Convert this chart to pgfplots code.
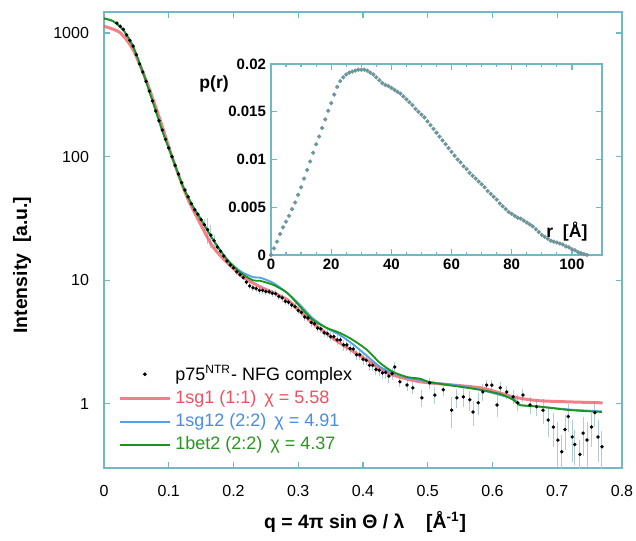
\documentclass[border=0pt]{standalone}
\usepackage{fontspec}
\setmainfont{Liberation Sans}
\usepackage{pgfplots}
\pgfplotsset{compat=1.18}

\definecolor{axcol}{RGB}{110,185,195}
\definecolor{fitred}{RGB}{240,95,105}
\definecolor{fitblue}{RGB}{80,160,235}
\definecolor{fitgreen}{RGB}{25,150,25}
\definecolor{txtred}{RGB}{240,80,95}
\definecolor{txtblue}{RGB}{70,140,235}
\definecolor{txtgreen}{RGB}{40,150,30}
\definecolor{errcol}{RGB}{175,205,210}
\definecolor{prcol}{RGB}{110,150,155}

\begin{document}
\begin{tikzpicture}
\path[use as bounding box] (-52pt,-36pt) rectangle (266pt,234pt);

% ---------- main scattering curve ----------
\begin{axis}[
    at={(0,0)}, anchor=south west,
    scale only axis, width=259pt, height=228pt,
    xmin=0, xmax=0.8,
    ymode=log, ymin=0.303, ymax=1480,
    xtick={0,0.1,0.2,0.3,0.4,0.5,0.6,0.7,0.8},
    ytick={1,10,100,1000}, yticklabels={1,10,100,1000},
    yminorticks=false,
    tick align=inside, major tick length=3pt,
    axis line style={axcol, line width=0.7pt},
    tick style={axcol, line width=0.6pt},
    tick label style={font=\fontsize{8}{9}\selectfont, black},
    xticklabel style={yshift=-5pt},
    yticklabel style={xshift=-4pt},
    /pgf/number format/assume math mode=true,
    xlabel={q = 4π sin Θ / λ \ \ \ [Å\textsuperscript{-1}]},
    ylabel={Intensity \ [a.u.]},
    xlabel style={at={(axis description cs:0.504,-0.118)}, anchor=center,
                  font=\bfseries\fontsize{9.7}{11}\selectfont},
    ylabel style={at={(axis description cs:-0.158,0.445)}, anchor=center,
                  font=\bfseries\fontsize{9.7}{11}\selectfont},
    legend style={at={(axis description cs:0.027,0.236)}, anchor=north west,
                  draw=none, fill=none, font=\fontsize{9}{10}\selectfont,
                  inner sep=0pt, row sep=-0.5pt},
    legend cell align=left,
    legend image code/.code={\draw[mark repeat=2,mark phase=2,#1]
        plot coordinates {(0pt,0pt) (12.5pt,0pt) (25pt,0pt)};},
]
\addlegendimage{only marks, mark=*, mark size=0.7pt, black}
\addlegendentry{p75\textsuperscript{NTR}- NFG complex}
\addlegendimage{fitred, line width=1.5pt, opacity=0.8}
\addlegendentry{\textcolor{txtred}{1sg1 (1:1)\hspace{4pt}χ = 5.58}}
\addlegendimage{fitblue, line width=0.9pt}
\addlegendentry{\textcolor{txtblue}{1sg12 (2:2)\hspace{4pt}χ = 4.91}}
\addlegendimage{fitgreen, line width=0.9pt}
\addlegendentry{\textcolor{txtgreen}{1bet2 (2:2)\hspace{4pt}χ = 4.37}}

% measured data with error bars
\addplot[forget plot, only marks, mark=*, mark size=0.65pt, black,
         error bars/.cd, y dir=both, y explicit,
         error bar style={errcol, line width=0.5pt}, error mark=none]
  table[x=q, y=I, y error=e] {
q I e
0.020 1202 10
0.025 1135 10
0.030 1072 9
0.035 966 8
0.040 871 7
0.045 785 6
0.050 668 5
0.055 562 5
0.060 484 4
0.065 407 4
0.070 339 3
0.075 282 3
0.080 234 2
0.085 195 2
0.090 164 2
0.095 138 2
0.100 117.5 1.5
0.105 100 1.5
0.110 85 1.2
0.115 72.4 1.2
0.120 61.7 1
0.125 53.7 1
0.130 47.3 1
0.135 41.7 1
0.140 37.2 1
0.145 34.3 1.2
0.150 30.9 1.5
0.155 28.2 3
0.160 25.7 6
0.165 23.2 5
0.170 20.9 2.5
0.175 18.6 1
0.180 17.2 0.8
0.185 15.7 0.8
0.190 14.3 0.7
0.195 13.3 0.6
0.200 12.6 0.6
0.205 11.7 0.6
0.210 11.1 0.5
0.215 10.5 0.5
0.220 9.66 0.5
0.225 9.0 0.5
0.230 8.7 0.5
0.235 8.55 0.5
0.240 8.3 0.5
0.245 8.28 0.5
0.250 8.1 0.5
0.255 8.05 0.5
0.260 7.85 0.5
0.265 7.8 0.5
0.270 7.4 0.5
0.275 7.2 0.5
0.280 6.75 0.4
0.285 6.65 0.4
0.290 6.3 0.4
0.295 6.1 0.4
0.300 5.7 0.4
0.305 5.5 0.4
0.310 5.05 0.35
0.315 4.95 0.35
0.320 4.55 0.35
0.325 4.45 0.35
0.330 4.1 0.3
0.335 4.05 0.3
0.340 3.75 0.3
0.345 3.7 0.3
0.350 3.5 0.3
0.355 3.5 0.3
0.360 3.3 0.3
0.365 3.3 0.3
0.370 3.0 0.3
0.375 3.0 0.3
0.380 2.8 0.25
0.385 2.78 0.25
0.390 2.5 0.25
0.395 2.5 0.25
0.400 2.3 0.25
0.405 2.25 0.2
0.410 2.05 0.2
0.415 2.05 0.2
0.420 1.9 0.2
0.425 1.87 0.2
0.430 1.78 0.2
0.435 1.8 0.2
0.440 1.68 0.2
0.445 1.76 0.2
0.449 1.99 0.2
0.457 1.51 0.15
0.468 1.42 0.15
0.477 1.35 0.15
0.491 1.12 0.18
0.503 1.48 0.15
0.511 1.18 0.18
0.524 1.30 0.15
0.537 0.89 0.25
0.545 1.12 0.2
0.555 1.14 0.2
0.565 1.08 0.2
0.570 0.86 0.2
0.578 1.02 0.2
0.585 1.25 0.2
0.591 1.42 0.15
0.599 1.42 0.15
0.607 0.98 0.2
0.612 1.35 0.15
0.622 1.25 0.15
0.632 1.14 0.15
0.639 1.02 0.15
0.647 1.18 0.15
0.658 0.98 0.15
0.668 0.95 0.15
0.678 0.89 0.2
0.686 0.74 0.2
0.694 0.65 0.2
0.701 0.51 0.2
0.707 0.41 0.15
0.712 0.62 0.2
0.717 0.79 0.2
0.723 0.54 0.2
0.727 0.47 0.15
0.735 0.39 0.12
0.740 0.58 0.2
0.746 0.51 0.2
0.753 0.65 0.2
0.758 0.85 0.2
0.763 0.54 0.2
0.769 0.45 0.15
};

% fit 1sg1 (1:1)
\addplot[forget plot, fitred, line width=1.5pt, opacity=0.8, smooth, tension=0.4] table {
0.000 1135
0.0247 1009
0.0448 735
0.0664 398
0.0865 199
0.1066 94.6
0.128 47.4
0.148 29.2
0.168 18.7
0.190 13.9
0.210 11.1
0.221 10.1
0.241 8.86
0.283 6.95
0.322 4.53
0.364 3.12
0.406 2.27
0.437 1.78
0.488 1.51
0.581 1.35
0.632 1.14
0.673 1.06
0.770 1.02
};
% fit 1sg12 (2:2)
\addplot[forget plot, fitblue, line width=0.9pt, smooth, tension=0.4] table {
0.000 1320
0.0139 1250
0.0293 1065
0.0448 780
0.0602 478
0.0757 274
0.0911 156
0.1066 95
0.122 57.5
0.1375 39.6
0.1529 29.3
0.1683 21.4
0.190 14.8
0.210 11.9
0.230 10.6
0.241 10.5
0.261 9.55
0.283 7.9
0.303 6.3
0.322 4.95
0.344 4.1
0.364 3.62
0.384 3.05
0.406 2.45
0.426 2.0
0.446 1.78
0.468 1.63
0.488 1.56
0.503 1.5
0.550 1.4
0.581 1.3
0.632 1.1
0.642 0.98
0.673 0.95
0.720 0.9
0.769 0.87
};
% fit 1bet2 (2:2)
\addplot[forget plot, fitgreen, line width=0.9pt, smooth, tension=0.4] table {
0.000 1310
0.0139 1247
0.0293 1067
0.0448 782
0.0602 479
0.0757 274
0.0911 156
0.1066 94.6
0.122 57.2
0.1375 39.4
0.1529 29.2
0.1683 21.3
0.190 14.7
0.210 11.6
0.230 10.0
0.241 9.9
0.261 9.2
0.283 7.9
0.303 6.1
0.322 4.79
0.344 4.12
0.364 3.76
0.384 3.3
0.406 2.74
0.426 2.15
0.446 1.82
0.468 1.65
0.488 1.6
0.503 1.5
0.540 1.4
0.581 1.30
0.612 1.2
0.632 1.08
0.642 0.98
0.673 0.95
0.720 0.89
0.769 0.86
};
\end{axis}

% ---------- inset: pair distance distribution ----------
\begin{axis}[
    at={(83.5pt,106.5pt)}, anchor=south west,
    scale only axis, width=165.5pt, height=95.5pt,
    xmin=0, xmax=110, ymin=0, ymax=0.02,
    xtick={0,20,40,60,80,100}, minor x tick num=3,
    ytick={0,0.005,0.01,0.015,0.02},
    scaled y ticks=false,
    yticklabel style={/pgf/number format/fixed, /pgf/number format/precision=3},
    tick align=inside, major tick length=3pt, minor tick length=1.5pt,
    axis line style={axcol, line width=0.7pt},
    tick style={axcol, line width=0.6pt},
    tick label style={font=\bfseries\fontsize{7.5}{8.5}\selectfont, black},
    xticklabel style={yshift=1.5pt},
    yticklabel style={xshift=1pt},
    /pgf/number format/assume math mode=true,
    axis background/.style={fill=white},
    clip=false,
]
\addplot[only marks, mark=*, mark size=0.85pt, prcol] table {
0 0.0000
1 0.0007
2 0.0014
3 0.0022
4 0.0029
5 0.0035
6 0.0041
7 0.0048
8 0.0055
9 0.0063
10 0.0071
11 0.0080
12 0.0089
13 0.0098
14 0.0107
15 0.0116
16 0.0124
17 0.0133
18 0.0142
19 0.0151
20 0.0159
21 0.0168
22 0.0176
23 0.0182
24 0.0186
25 0.0189
26 0.0191
27 0.0192
28 0.0193
29 0.0194
30 0.0194
31 0.0194
32 0.0193
33 0.0191
34 0.0189
35 0.0186
36 0.0183
37 0.0180
38 0.0178
39 0.0177
40 0.0175
41 0.0173
42 0.0171
43 0.0169
44 0.0166
45 0.0163
46 0.0160
47 0.0157
48 0.0153
49 0.0150
50 0.0147
51 0.0144
52 0.0140
53 0.0136
54 0.0132
55 0.0128
56 0.0124
57 0.0120
58 0.0116
59 0.0112
60 0.0108
61 0.0104
62 0.0100
63 0.0097
64 0.0093
65 0.0090
66 0.0086
67 0.0083
68 0.0080
69 0.0077
70 0.0074
71 0.0071
72 0.0067
73 0.0064
74 0.0061
75 0.0058
76 0.0054
77 0.0051
78 0.0048
79 0.0045
80 0.0043
81 0.0041
82 0.0039
83 0.0038
84 0.0036
85 0.0034
86 0.0032
87 0.0030
88 0.0027
89 0.0024
90 0.0021
91 0.0019
92 0.0017
93 0.0015
94 0.0014
95 0.0013
96 0.0012
97 0.0011
98 0.0009
99 0.0008
100 0.0006
101 0.0005
102 0.0003
103 0.0002
104 0.0001
105 0.0000
};
\node[font=\bfseries\fontsize{8.8}{10}\selectfont] at (rel axis cs:-0.172,0.895) {p(r)};
\node[font=\bfseries\fontsize{8.8}{10}\selectfont, anchor=east] at (axis cs:107.5,0.0025) {r\ \ [Å]};
\end{axis}
\end{tikzpicture}
\end{document}
